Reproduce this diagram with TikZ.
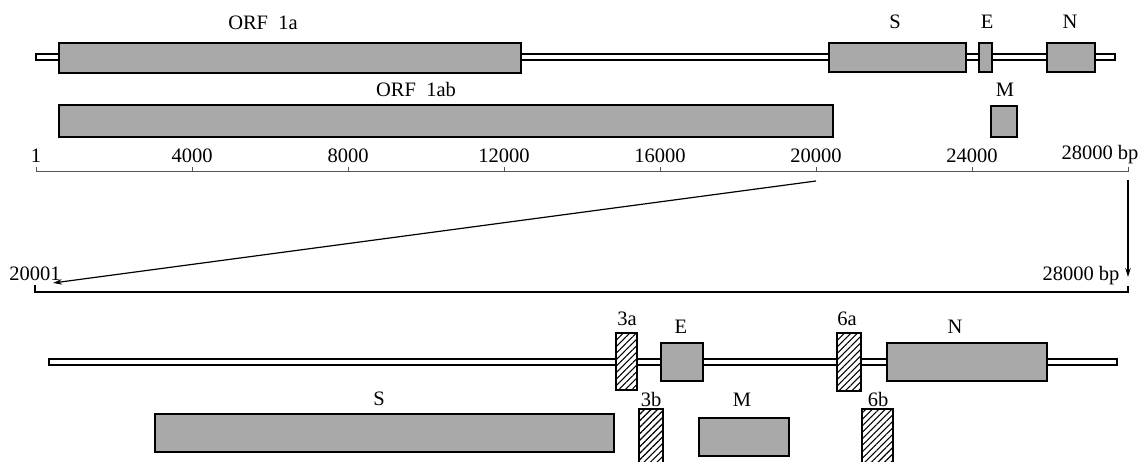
\documentclass[tikz,border=0pt]{standalone}
\usepackage{fontspec}
\setmainfont{Liberation Serif}
\usetikzlibrary{fit,patterns.meta,arrows.meta}
\definecolor{boxgray}{HTML}{A9A9A9}
\definecolor{scalegray}{HTML}{555555}
\tikzset{
  gbox/.style={draw=black, line width=1.3pt, fill=boxgray, inner sep=0pt, rectangle},
  hbox/.style={draw=black, line width=1.2pt, fill=white, inner sep=0pt, rectangle,
     postaction={pattern={Lines[angle=45,distance=4.6pt,line width=1.1pt]}}},
  gline/.style={draw=black, line width=1.2pt, fill=white, inner sep=0pt, rectangle},
  lbl/.style={font=\fontsize{20.5}{22}\selectfont, anchor=base, inner sep=0pt},
  scaleline/.style={draw=scalegray, line width=1pt},
  arr/.style={line width=1.2pt, -{Stealth[length=9pt,width=5.5pt]}}
}
\begin{document}
\begin{tikzpicture}[x=1pt,y=-1pt]
\useasboundingbox (0,0) rectangle (1143,462);
% ---- top genome ----
\node[gline, fit={(36,54) (1115,60)}] (g1) {};
\node[gbox, fit={(59,43) (521,73)}] (orf1a) {};
\node[gbox, fit={(829,43) (966,72)}] (S1) {};
\node[gbox, fit={(979,43) (992,72)}] (E1) {};
\node[gbox, fit={(1047,43) (1095,72)}] (N1) {};
\node[lbl] (lorf1a) at (263,30) {ORF\ \ 1a};
\node[lbl] (lS1) at (895,29) {S};
\node[lbl] (lE1) at (987,29) {E};
\node[lbl] (lN1) at (1070,29) {N};
\node[gbox, fit={(59,105) (833,137)}] (orf1ab) {};
\node[gbox, fit={(991,106) (1017,137)}] (M1) {};
\node[lbl] (lorf1ab) at (416,97) {ORF\ \ 1ab};
\node[lbl] (lM1) at (1005,97) {M};
% ---- scale ----
\coordinate (s0) at (36,172);
\coordinate (s7) at (1128,172);
\draw[scaleline] (s0) -- (s7);
\foreach \i/\t in {0/1,1/4000,2/8000,3/12000,4/16000,5/20000,6/24000} {
  \coordinate (tk\i) at (36+\i*156,172);
  \draw[scaleline] (tk\i) -- ++(0,-5);
  \node[lbl] (lt\i) at ([yshift=9pt]tk\i) {\t};
}
\draw[scaleline] (s7) -- ++(0,-5);
\node[lbl] (lt7) at (1100,160) {28000 bp};
% ---- arrows ----
\coordinate (a1s) at (816,181);
\coordinate (a1e) at (53,283);
\coordinate (a2s) at (1128,180);
\coordinate (a2e) at (1128,277);
\draw[arr] (a1s) -- (a1e);
\draw[arr] (a2s) -- (a2e);
\node[lbl] (l20001) at (35,280) {20001};
\node[lbl] (l28000b) at (1081,280) {28000 bp};
% ---- bottom scale ----
\coordinate (b0) at (35,292);
\coordinate (b1) at (1128,292);
\draw[line width=1.2pt] (b0) ++(0,-7) -- (b0) -- (b1) -- ++(0,-6);
% ---- bottom genome ----
\node[gline, fit={(49,359) (1117,365)}] (g2) {};
\node[gbox, fit={(155,414) (614,452)}] (S2) {};
\node[hbox, fit={(616,333) (637,390)}] (h3a) {};
\node[gbox, fit={(661,343) (703,381)}] (E2) {};
\node[hbox, fit={(837,333) (861,391)}] (h6a) {};
\node[gbox, fit={(887,343) (1047,381)}] (N2) {};
\node[hbox, fit={(639,409) (663,463)}] (h3b) {};
\node[gbox, fit={(699,418) (789,456)}] (M2) {};
\node[hbox, fit={(862,409) (893,463)}] (h6b) {};
\node[lbl] (lS2) at (379,405) {S};
\node[lbl] (l3a) at (627,326) {3a};
\node[lbl] (lE2) at (681,333) {E};
\node[lbl] (l6a) at (847,326) {6a};
\node[lbl] (lN2) at (955,333) {N};
\node[lbl] (l3b) at (651,406) {3b};
\node[lbl] (lM2) at (742,406) {M};
\node[lbl] (l6b) at (878,406) {6b};
\end{tikzpicture}
\end{document}
